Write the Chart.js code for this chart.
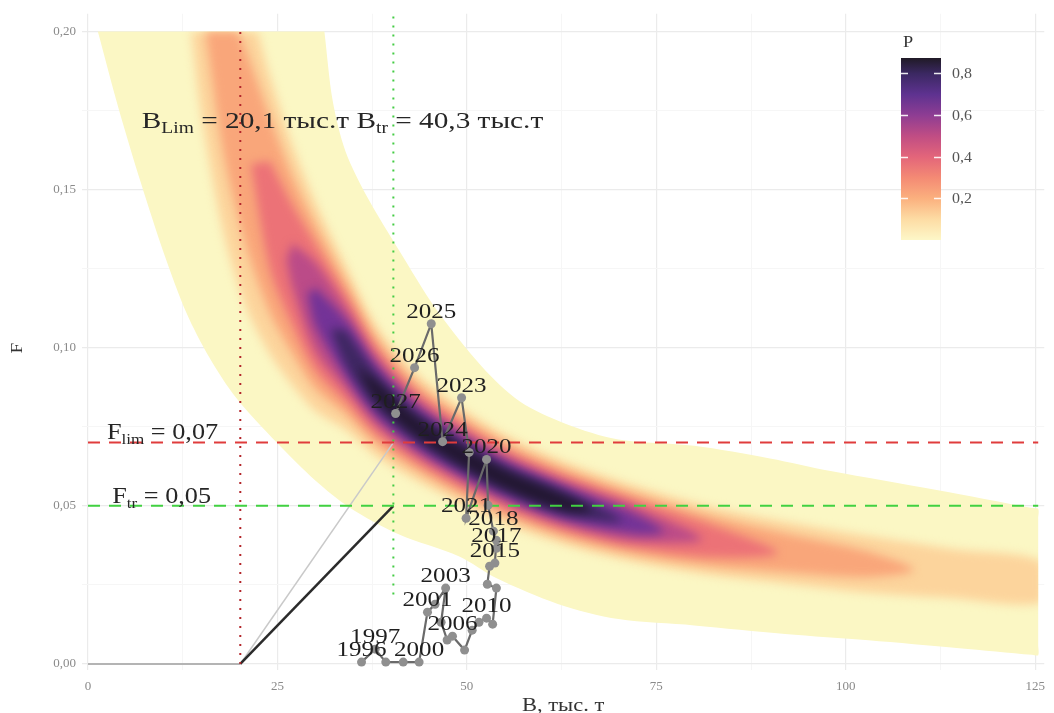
<!DOCTYPE html>
<html>
<head>
<meta charset="utf-8">
<script src="https://cdn.jsdelivr.net/npm/chart.js@4.4.0/dist/chart.umd.min.js"></script>
<style>
  html, body { margin: 0; padding: 0; background: #fff; }
  canvas { display: block; }
</style>
</head>
<body>
<canvas id="myChart" width="1054" height="713"></canvas>
<script>
// stock trajectory (B, thousand t ; F)
var years   = [1996, 1997, 1998, 1999, 2000, 2001, 2002, 2003, 2004, 2005, 2006, 2007, 2008, 2009, 2010, 2011,
               2012, 2013, 2014, 2015, 2016, 2017, 2018, 2019, 2020, 2021, 2022, 2023, 2024, 2025, 2026, 2027];
var biomass = [36.1, 37.9, 39.3, 41.6, 43.7, 44.8, 45.8, 47.2, 46.6, 47.4, 48.1, 49.7, 50.7, 51.6, 52.6, 53.4,
               53.9, 52.7, 53.0, 53.7, 53.9, 53.9, 53.5, 52.8, 52.6, 49.9, 50.3, 49.3, 46.8, 45.3, 43.1, 40.6];
var fishing = [0.0006, 0.0047, 0.0006, 0.0006, 0.0006, 0.0164, 0.0189, 0.0240, 0.0132, 0.0076, 0.0088, 0.0044,
               0.0107, 0.0132, 0.0145, 0.0126, 0.0240, 0.0252, 0.0309, 0.0319, 0.0391, 0.0366, 0.0420, 0.0502,
               0.0647, 0.0461, 0.0669, 0.0842, 0.0703, 0.1076, 0.0937, 0.0792];
var labelledYears = [1996, 1997, 2000, 2001, 2003, 2006, 2010, 2015, 2017, 2018, 2020, 2021, 2023, 2024, 2025, 2026, 2027];

// reference points
var bLim = 20.1, bTr = 40.3, fLim = 0.07, fTr = 0.05;

// probability band, outline of each level as [B, F] polygons
var bandOuter = [[1.3,0.2],[4,0.176],[7,0.152],[10,0.130],[13,0.111],[16,0.097],[19.6,0.084],[24.9,0.070],[30,0.058],
  [34.5,0.0495],[41,0.041],[49,0.034],[54,0.027],[62,0.019],[70,0.0142],[80,0.0122],[92,0.0095],[103,0.0075],[115,0.005],
  [124.6,0.0029],[125.4,0.0028],[125.4,0.006],[125.4,0.046],[125.4,0.049],[124.6,0.0493],[112,0.055],[98,0.061],[90,0.065],
  [80,0.069],[70,0.071],[63,0.076],[57,0.083],[52,0.094],[46,0.112],[41,0.131],[37,0.147],[34,0.162],[32.3,0.178],[31.2,0.2]];
var bandP08 = [[13.6,0.2],[15,0.173],[18,0.135],[21,0.112],[24,0.098],[27,0.088],[30,0.080],[34,0.074],[38,0.0658],[43,0.0585],
  [48,0.0523],[55,0.0444],[63,0.0377],[72,0.0323],[82,0.0282],[92,0.0254],[103,0.0225],[114,0.0208],[126,0.0196],
  [126,0.0322],[114,0.0364],[103,0.0405],[92,0.045],[82,0.0498],[72,0.0565],[63,0.0639],[55,0.0726],[48,0.0831],
  [43,0.0927],[38,0.1072],[34,0.126],[30,0.146],[27,0.164],[24,0.186],[22.4,0.2]];
var bandP18 = [[15.5,0.2],[18,0.160],[21,0.131],[24,0.111],[27,0.098],[30,0.087],[34,0.079],[38,0.0697],[43,0.0617],[48,0.0551],
  [55,0.047],[63,0.0401],[72,0.0348],[82,0.0311],[92,0.0291],[103,0.0275],[109,0.0298],[103,0.0355],[92,0.0413],
  [82,0.0469],[72,0.054],[63,0.0615],[55,0.07],[48,0.0803],[43,0.0895],[38,0.1033],[34,0.121],[30,0.139],[27,0.154],
  [24,0.173],[21,0.193],[19.8,0.2]];
var bandP30 = [[21.5,0.158],[24,0.125],[27,0.107],[30,0.093],[34,0.083],[38,0.0727],[43,0.0642],[48,0.0573],[55,0.049],
  [63,0.042],[72,0.0368],[82,0.0338],[91,0.0352],[82,0.0442],[72,0.052],[63,0.0596],[55,0.068],[48,0.0781],[43,0.087],
  [38,0.1003],[34,0.117],[30,0.133],[27,0.145],[24,0.159]];
var bandP45 = [[26.2,0.128],[27,0.119],[30,0.099],[34,0.087],[38,0.0757],[43,0.0666],[48,0.0595],[55,0.051],[63,0.0439],
  [72,0.0389],[81,0.0395],[72,0.0499],[63,0.0577],[55,0.066],[48,0.0759],[43,0.0846],[38,0.0973],[34,0.113],[30,0.127],
  [27,0.133]];
var bandP60 = [[29,0.117],[30,0.107],[34,0.091],[38,0.0784],[43,0.0688],[48,0.0614],[55,0.0527],[63,0.0455],[72,0.0412],
  [76,0.0418],[72,0.0476],[63,0.0561],[55,0.0643],[48,0.074],[43,0.0824],[38,0.0946],[34,0.109],[30,0.119]];
var bandP72 = [[32,0.106],[34,0.0945],[38,0.0808],[43,0.0707],[48,0.063],[55,0.0542],[63,0.047],[70.5,0.0452],[63,0.0546],
  [55,0.0628],[48,0.0724],[43,0.0805],[38,0.0922],[34,0.1055]];
var bandP82 = [[35.5,0.094],[38,0.0836],[43,0.0727],[48,0.0647],[55,0.0557],[63,0.0485],[66.5,0.0485],[63,0.0531],
  [55,0.0613],[48,0.0707],[43,0.0785],[38,0.0894]];
var bandShapes = [bandOuter, bandP08, bandP18, bandP30, bandP45, bandP60, bandP72, bandP82];
var bandColors = ['#fbf7c4', '#fcd49c', '#f9a67a', '#ec7277', '#bb4b88', '#733397', '#3e2762', '#221731'];

// axis ticks
var xTicks = [0, 12.5, 25, 37.5, 50, 62.5, 75, 87.5, 100, 112.5, 125];
var yTicks = [0, 0.025, 0.05, 0.075, 0.1, 0.125, 0.15, 0.175, 0.2];

// colour bar
var barTicks = [0.2, 0.4, 0.6, 0.8];
var barStops = [[0, '#fdf7c8'], [0.1, '#fddca4'], [0.2, '#fbb07e'], [0.3, '#f48a74'], [0.4, '#e3657a'], [0.5, '#c04d84'],
                [0.6, '#8e3d93'], [0.7, '#5e3290'], [0.8, '#3b2862'], [0.875, '#201a26']];

var SX = 1.14;
var SERIF = '"Liberation Serif", "DejaVu Serif", serif';

function pts(list) { return list.map(function (p) { return {x: p[0], y: p[1]}; }); }

function drawRuns(ctx, runs, x, y, align, color, sx) {
  var k = sx || SX;
  var total = 0;
  runs.forEach(function (r) {
    ctx.font = r.size + 'px ' + SERIF;
    r.w = ctx.measureText(r.text).width * k;
    total += r.w;
  });
  var cx = align === 'center' ? x - total / 2 : (align === 'right' ? x - total : x);
  ctx.fillStyle = color || '#2e2e2e';
  ctx.textAlign = 'left';
  ctx.textBaseline = 'alphabetic';
  runs.forEach(function (r) {
    ctx.font = r.size + 'px ' + SERIF;
    ctx.save();
    ctx.translate(cx, y + (r.dy || 0));
    ctx.scale(k, 1);
    ctx.fillText(r.text, 0, 0);
    ctx.restore();
    cx += r.w;
  });
}

// blur the inner levels so they blend like a raster
var bandBlur = {
  id: 'bandBlur',
  afterDatasetDraw: function (chart, args) {
    var ds = chart.data.datasets[args.index];
    var ctx = chart.ctx;
    if (ds.startBlur) {
      var xs = chart.scales.x, ys = chart.scales.y;
      var x0 = xs.getPixelForValue(0), x1 = xs.getPixelForValue(125.4);
      var y0 = ys.getPixelForValue(0.2), y1 = ys.getPixelForValue(0);
      ctx.save();
      ctx.beginPath();
      ctx.rect(x0, y0, x1 - x0, y1 - y0);
      ctx.clip();
      ctx.filter = 'blur(5px)';
    }
    if (ds.endBlur) {
      ctx.restore();
    }
  }
};

var annotations = {
  id: 'annotations',
  afterDraw: function (chart) {
    var ctx = chart.ctx;
    var xs = chart.scales.x, ys = chart.scales.y;
    // year labels
    years.forEach(function (yr, i) {
      if (labelledYears.indexOf(yr) < 0) return;
      var px = xs.getPixelForValue(biomass[i]);
      var py = ys.getPixelForValue(fishing[i]);
      drawRuns(ctx, [{text: String(yr), size: 22}], px, py - 6, 'center', '#1f1f1f');
    });
    // reference point texts
    drawRuns(ctx, [{text: 'B', size: 24}, {text: 'Lim', size: 16, dy: 5}, {text: ' = 20,1 тыс.т B', size: 24},
                   {text: 'tr', size: 16, dy: 5}, {text: ' = 40,3 тыс.т', size: 24}],
             xs.getPixelForValue(7.1), ys.getPixelForValue(0.1694), 'left', '#262626', 1.22);
    drawRuns(ctx, [{text: 'F', size: 23}, {text: 'lim', size: 15, dy: 5}, {text: ' = 0,07', size: 23}],
             xs.getPixelForValue(2.5), ys.getPixelForValue(0.0713), 'left', '#262626');
    drawRuns(ctx, [{text: 'F', size: 23}, {text: 'tr', size: 15, dy: 5}, {text: ' = 0,05', size: 23}],
             xs.getPixelForValue(3.2), ys.getPixelForValue(0.0508), 'left', '#262626');
    // axis titles
    drawRuns(ctx, [{text: 'B, тыс. т', size: 18}], (chart.chartArea.left + chart.chartArea.right) / 2 + 0, 711, 'center', '#333', 1.25);
    ctx.save();
    ctx.translate(22, 348);
    ctx.rotate(-Math.PI / 2);
    drawRuns(ctx, [{text: 'F', size: 17}], 0, 0, 'center', '#333');
    ctx.restore();
    // colour bar legend
    var bx = 901, bw = 40, bTop = 58, bBot = 240;
    var pToY = function (p) { return bBot - p * 208.5; };
    var g = ctx.createLinearGradient(0, bBot, 0, bTop);
    barStops.forEach(function (s) { g.addColorStop(s[0] / 0.875, s[1]); });
    ctx.fillStyle = g;
    ctx.fillRect(bx, bTop, bw, bBot - bTop);
    ctx.strokeStyle = 'rgba(255,255,255,0.9)';
    ctx.lineWidth = 1.5;
    barTicks.forEach(function (t) {
      var ty = Math.round(pToY(t)) + 0.5;
      ctx.beginPath();
      ctx.moveTo(bx, ty); ctx.lineTo(bx + 7, ty);
      ctx.moveTo(bx + bw - 7, ty); ctx.lineTo(bx + bw, ty);
      ctx.stroke();
      drawRuns(ctx, [{text: t.toFixed(1).replace('.', ','), size: 14}], 952, pToY(t) + 5, 'left', '#555');
    });
    drawRuns(ctx, [{text: 'P', size: 16}], 903, 47, 'left', '#333');
  }
};

var datasets = [];
bandShapes.forEach(function (shape, i) {
  datasets.push({
    data: pts(shape),
    showLine: true,
    fill: 'shape',
    backgroundColor: bandColors[i],
    borderColor: 'rgba(0,0,0,0)',
    borderWidth: 0,
    pointRadius: 0,
    tension: 0.3,
    order: 100 - i,
    startBlur: i === 0,
    endBlur: i === bandShapes.length - 1
  });
});

function segment(points, color, width, dash, order) {
  return {
    data: pts(points),
    showLine: true,
    fill: false,
    borderColor: color,
    borderWidth: width,
    borderDash: dash || [],
    pointRadius: 0,
    order: order
  };
}

datasets.push(segment([[0, 0], [bLim, 0]], '#b4b4b4', 2, null, 20));
datasets.push(segment([[bLim, 0], [bTr, fLim]], '#c9c9c9', 1.5, null, 19));
datasets.push(segment([[bLim, 0], [bTr, fTr]], '#2b2b2b', 2.5, null, 18));
datasets.push(segment([[bLim, 0], [bLim, 0.2]], '#b3262b', 2, [2, 7], 17));
datasets.push(segment([[bTr, 0.022], [bTr, 0.2055]], '#44cc44', 2, [2, 7], 16));
datasets.push(segment([[0, fLim], [125.4, fLim]], '#e03c3c', 2, [12, 9], 15));
datasets.push(segment([[0, fTr], [125.4, fTr]], '#41d141', 2, [12, 9], 14));

datasets.push({
  data: years.map(function (y, i) { return {x: biomass[i], y: fishing[i]}; }),
  showLine: true,
  fill: false,
  borderColor: '#6a6a6a',
  borderWidth: 2.2,
  pointRadius: 4.5,
  pointBackgroundColor: '#8f8f8f',
  pointBorderColor: '#8f8f8f',
  pointBorderWidth: 0,
  order: 1
});

var ctx = document.getElementById('myChart').getContext('2d');
var chart = new Chart(ctx, {
  type: 'scatter',
  data: { datasets: datasets },
  plugins: [bandBlur, annotations],
  options: {
    responsive: false,
    animation: false,
    events: [],
    layout: { padding: { top: 4, right: 8, left: 0, bottom: 0 } },
    plugins: { legend: { display: false }, tooltip: { enabled: false } },
    scales: {
      x: {
        type: 'linear',
        min: -0.79,
        max: 126.2,
        afterBuildTicks: function (scale) { scale.ticks = xTicks.map(function (v) { return {value: v}; }); },
        afterFit: function (scale) { scale.height = 43; },
        border: { display: false },
        grid: {
          drawTicks: false,
          color: function (c) { return c.tick && c.tick.value % 25 === 0 ? '#ebebeb' : '#f6f6f6'; },
          lineWidth: function (c) { return c.tick && c.tick.value % 25 === 0 ? 1.2 : 1; }
        },
        ticks: {
          padding: 9,
          maxRotation: 0,
          autoSkip: false,
          color: '#8a8a8a',
          font: { family: SERIF, size: 13 },
          callback: function (v) { return v % 25 === 0 ? String(v) : ''; }
        }
      },
      y: {
        type: 'linear',
        min: -0.0019,
        max: 0.2056,
        afterBuildTicks: function (scale) { scale.ticks = yTicks.map(function (v) { return {value: v}; }); },
        afterFit: function (scale) { scale.width = 82; },
        border: { display: false },
        grid: {
          drawTicks: false,
          color: function (c) { return c.tick && Math.abs(c.tick.value * 20 - Math.round(c.tick.value * 20)) < 1e-6 ? '#ebebeb' : '#f6f6f6'; },
          lineWidth: function (c) { return c.tick && Math.abs(c.tick.value * 20 - Math.round(c.tick.value * 20)) < 1e-6 ? 1.2 : 1; }
        },
        ticks: {
          padding: 6,
          autoSkip: false,
          color: '#8a8a8a',
          font: { family: SERIF, size: 13 },
          callback: function (v) {
            return Math.abs(v * 20 - Math.round(v * 20)) < 1e-6 ? v.toFixed(2).replace('.', ',') : '';
          }
        }
      }
    }
  }
});
</script>
</body>
</html>
